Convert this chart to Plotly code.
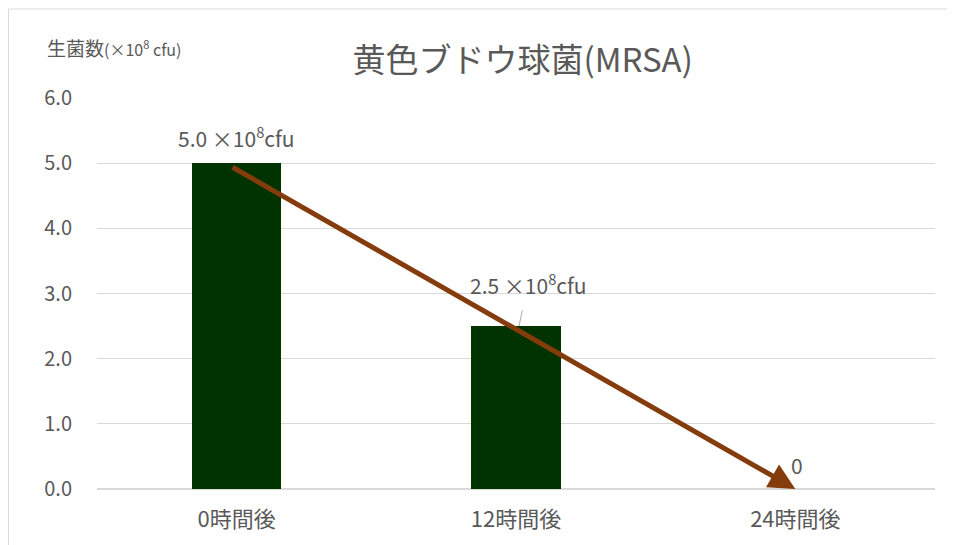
import plotly.graph_objects as go

# datos
categorias = ['0時間後', '12時間後', '24時間後']
valores = [5.0, 2.5, 0]
etiquetas = ['5.0 ×10<sup>8</sup>cfu', '2.5 ×10<sup>8</sup>cfu', '0']
flecha_inicio = (-0.02, 4.95)
flecha_fin = (2, 0)

fuente = 'Noto Sans CJK JP, Noto Sans, sans-serif'
gris = '#595959'

fig = go.Figure()

fig.add_trace(go.Bar(
    x=list(range(len(categorias))),
    y=valores,
    width=0.32,
    marker_color='#003300',
    marker_line_width=0,
    showlegend=False
))

# flecha de tendencia
fig.add_annotation(
    x=flecha_fin[0], y=flecha_fin[1],
    ax=flecha_inicio[0], ay=flecha_inicio[1],
    xref='x', yref='y', axref='x', ayref='y',
    showarrow=True, arrowhead=2, arrowsize=1.05, arrowwidth=5,
    arrowcolor='#843C0C', text=''
)

# etiquetas de datos
fig.add_annotation(x=0, y=valores[0], text=etiquetas[0], showarrow=False,
                   yshift=26, font=dict(size=21, color=gris, family=fuente))
fig.add_annotation(x=1, y=valores[1], text=etiquetas[1], showarrow=True,
                   ax=9, ay=-42, arrowhead=0, arrowwidth=1, arrowcolor='#A6A6A6',
                   startstandoff=9, xshift=3,
                   font=dict(size=21, color=gris, family=fuente))
fig.add_annotation(x=2, y=valores[2], text=etiquetas[2], showarrow=False,
                   xshift=2, yshift=24, font=dict(size=21, color=gris, family=fuente))

# titulo del eje y
fig.add_annotation(
    x=-0.062, y=1.13, xref='paper', yref='paper', xanchor='left', yanchor='middle',
    text="生菌数<span style='font-size:16px'>(×10<sup>8</sup> cfu)</span>",
    showarrow=False, font=dict(size=19, color=gris, family=fuente)
)

# borde del area del grafico
fig.add_shape(type='rect', xref='paper', yref='paper',
              x0=-0.1056, y0=-0.3, x1=1.2, y1=1.2276,
              line=dict(color='#D9D9D9', width=1), layer='below')

# la pagina tiene 8px de margen, se compensa con el tamaño
fig.update_layout(
    width=947, height=537,
    margin=dict(l=89, r=20, t=90, b=56),
    paper_bgcolor='white', plot_bgcolor='white',
    title=dict(text='黄色ブドウ球菌(MRSA)', x=0.508, xref='paper', xanchor='center',
               y=1 - 52 / 537, yanchor='middle',
               font=dict(size=33, color=gris, family=fuente)),
    font=dict(family=fuente, color=gris, size=20),
    xaxis=dict(
        tickvals=list(range(len(categorias))), ticktext=categorias,
        range=[-0.5, 2.5], showgrid=False, zeroline=False, showline=False,
        ticklabelstandoff=15, tickfont=dict(size=22, color=gris)
    ),
    yaxis=dict(
        range=[0, 6], dtick=1, tickformat='.1f',
        gridcolor='#D9D9D9', gridwidth=1, zeroline=True, zerolinecolor='#D9D9D9',
        showline=False, ticklabelstandoff=24, tickfont=dict(size=20, color=gris)
    ),
    bargap=0
)

fig.write_html('out.html')
